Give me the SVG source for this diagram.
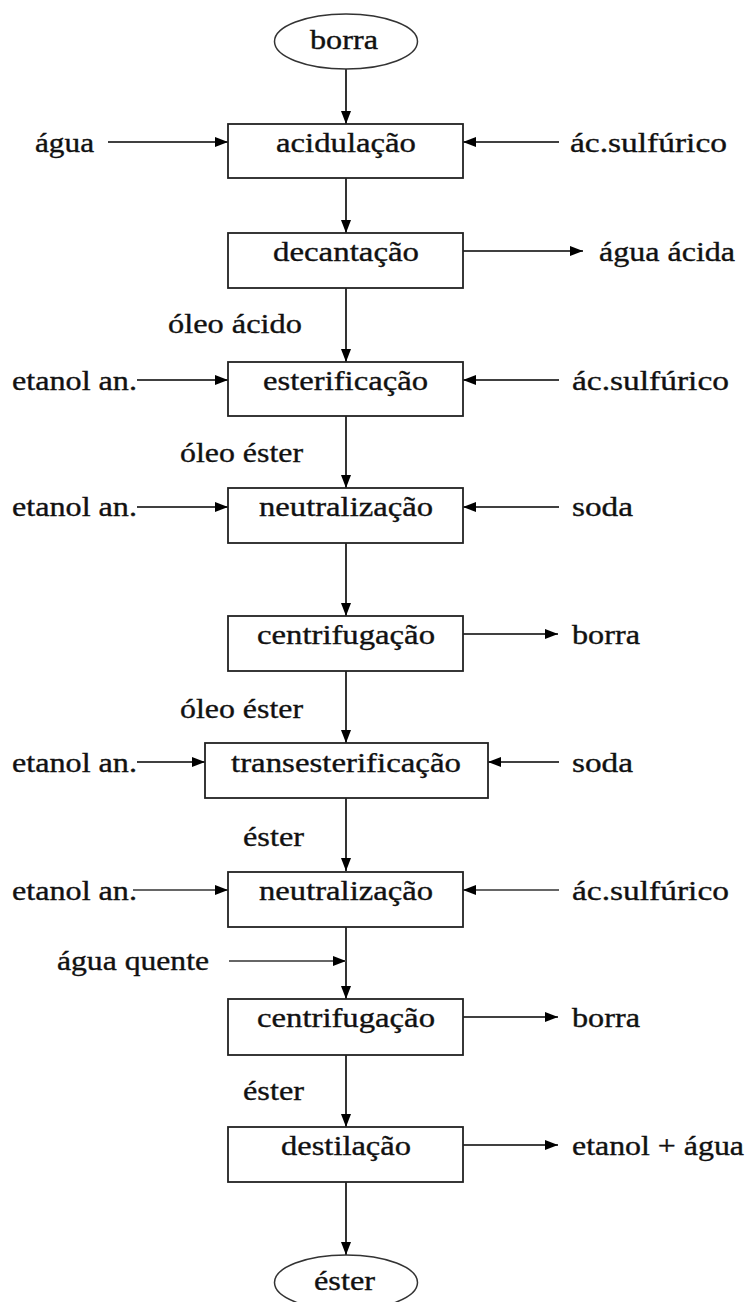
<svg xmlns="http://www.w3.org/2000/svg" width="751" height="1302" viewBox="0 0 751 1302">
<defs>
<marker id="ah" markerUnits="userSpaceOnUse" markerWidth="14" markerHeight="11" refX="13" refY="5" orient="auto">
<path d="M0,0 L13,5 L0,10 z" fill="#000"/>
</marker>
<style>
.bx{fill:#fff;stroke:#222;stroke-width:1.8}
.el{fill:#fff;stroke:#333;stroke-width:1.5}
.ln{fill:none;stroke:#000;stroke-width:1.6;marker-end:url(#ah)}
.lg{fill:none;stroke:#666;stroke-width:2;marker-end:url(#ah)}
.t{font-family:'Liberation Serif','Times New Roman',Tinos,'DejaVu Serif',serif;font-size:27px;fill:#111;stroke:#111;stroke-width:0.35}
</style>
</defs>
<rect width="751" height="1302" fill="#fff"/>

<g id="connectors">
<line class="ln" x1="346" y1="69" x2="346" y2="124"/>
<line class="ln" x1="346" y1="178" x2="346" y2="233"/>
<line class="ln" x1="346" y1="288" x2="346" y2="362"/>
<line class="ln" x1="346" y1="416" x2="346" y2="488"/>
<line class="ln" x1="346" y1="543" x2="346" y2="616"/>
<line class="ln" x1="346" y1="671" x2="346" y2="743"/>
<line class="ln" x1="346" y1="798" x2="346" y2="871"/>
<line class="ln" x1="346" y1="927" x2="346" y2="999"/>
<line class="ln" x1="346" y1="1055" x2="346" y2="1127"/>
<line class="ln" x1="346" y1="1182" x2="346" y2="1255"/>

<line class="ln" x1="108" y1="142" x2="228" y2="142"/>
<line class="ln" x1="559" y1="142" x2="463" y2="142"/>
<line class="ln" x1="463" y1="251" x2="583" y2="251"/>
<line class="ln" x1="137" y1="380" x2="228" y2="380"/>
<line class="ln" x1="559" y1="380" x2="463" y2="380"/>
<line class="ln" x1="137" y1="507" x2="228" y2="507"/>
<line class="ln" x1="559" y1="507" x2="463" y2="507"/>
<line class="ln" x1="463" y1="634" x2="558" y2="634"/>
<line class="ln" x1="137" y1="762" x2="205" y2="762"/>
<line class="ln" x1="559" y1="762" x2="488" y2="762"/>
<line class="lg" x1="133" y1="890" x2="228" y2="890"/>
<line class="lg" x1="559" y1="890" x2="463" y2="890"/>
<line class="lg" x1="229" y1="961" x2="346" y2="961"/>
<line class="ln" x1="463" y1="1017" x2="558" y2="1017"/>
<line class="ln" x1="463" y1="1145" x2="558" y2="1145"/>
</g>

<g id="n-borra-in">
<ellipse class="el" cx="346" cy="41.5" rx="71.5" ry="27.5"/>
<text class="t" x="310" y="49" textLength="68" lengthAdjust="spacingAndGlyphs">borra</text>
</g>
<g id="n-acidulacao">
<rect class="bx" x="228" y="124" width="235" height="54"/>
<text class="t" x="276" y="152" textLength="140" lengthAdjust="spacingAndGlyphs">acidulação</text>
</g>
<g id="n-decantacao">
<rect class="bx" x="228" y="233" width="235" height="55"/>
<text class="t" x="273" y="261" textLength="146" lengthAdjust="spacingAndGlyphs">decantação</text>
</g>
<g id="n-esterificacao">
<rect class="bx" x="228" y="362" width="235" height="54"/>
<text class="t" x="263" y="390" textLength="165" lengthAdjust="spacingAndGlyphs">esterificação</text>
</g>
<g id="n-neutralizacao1">
<rect class="bx" x="228" y="488" width="235" height="55"/>
<text class="t" x="259" y="516" textLength="174" lengthAdjust="spacingAndGlyphs">neutralização</text>
</g>
<g id="n-centrifugacao1">
<rect class="bx" x="228" y="616" width="235" height="55"/>
<text class="t" x="257" y="644" textLength="178" lengthAdjust="spacingAndGlyphs">centrifugação</text>
</g>
<g id="n-transesterificacao">
<rect class="bx" x="205" y="743" width="283" height="55"/>
<text class="t" x="231" y="772" textLength="230" lengthAdjust="spacingAndGlyphs">transesterificação</text>
</g>
<g id="n-neutralizacao2">
<rect class="bx" x="228" y="872" width="235" height="55"/>
<text class="t" x="259" y="900" textLength="174" lengthAdjust="spacingAndGlyphs">neutralização</text>
</g>
<g id="n-centrifugacao2">
<rect class="bx" x="228" y="999" width="235" height="56"/>
<text class="t" x="257" y="1027" textLength="178" lengthAdjust="spacingAndGlyphs">centrifugação</text>
</g>
<g id="n-destilacao">
<rect class="bx" x="228" y="1127" width="235" height="55"/>
<text class="t" x="281" y="1155" textLength="130" lengthAdjust="spacingAndGlyphs">destilação</text>
</g>
<g id="n-ester-out">
<ellipse class="el" cx="346" cy="1282.5" rx="71.5" ry="27.5"/>
<text class="t" x="314" y="1290" textLength="61" lengthAdjust="spacingAndGlyphs">éster</text>
</g>

<g id="labels">
<text class="t" x="35" y="152" textLength="59" lengthAdjust="spacingAndGlyphs">água</text>
<text class="t" x="570" y="152" textLength="157" lengthAdjust="spacingAndGlyphs">ác.sulfúrico</text>
<text class="t" x="599" y="261" textLength="136" lengthAdjust="spacingAndGlyphs">água ácida</text>
<text class="t" x="168" y="333" textLength="134" lengthAdjust="spacingAndGlyphs">óleo ácido</text>
<text class="t" x="12" y="390" textLength="125" lengthAdjust="spacingAndGlyphs">etanol an.</text>
<text class="t" x="572" y="390" textLength="157" lengthAdjust="spacingAndGlyphs">ác.sulfúrico</text>
<text class="t" x="180" y="462" textLength="123" lengthAdjust="spacingAndGlyphs">óleo éster</text>
<text class="t" x="12" y="516" textLength="125" lengthAdjust="spacingAndGlyphs">etanol an.</text>
<text class="t" x="572" y="516" textLength="61" lengthAdjust="spacingAndGlyphs">soda</text>
<text class="t" x="572" y="644" textLength="68" lengthAdjust="spacingAndGlyphs">borra</text>
<text class="t" x="180" y="718" textLength="123" lengthAdjust="spacingAndGlyphs">óleo éster</text>
<text class="t" x="12" y="772" textLength="125" lengthAdjust="spacingAndGlyphs">etanol an.</text>
<text class="t" x="572" y="772" textLength="61" lengthAdjust="spacingAndGlyphs">soda</text>
<text class="t" x="243" y="846" textLength="61" lengthAdjust="spacingAndGlyphs">éster</text>
<text class="t" x="12" y="900" textLength="125" lengthAdjust="spacingAndGlyphs">etanol an.</text>
<text class="t" x="572" y="900" textLength="157" lengthAdjust="spacingAndGlyphs">ác.sulfúrico</text>
<text class="t" x="57" y="970" textLength="152" lengthAdjust="spacingAndGlyphs">água quente</text>
<text class="t" x="572" y="1027" textLength="68" lengthAdjust="spacingAndGlyphs">borra</text>
<text class="t" x="243" y="1100" textLength="61" lengthAdjust="spacingAndGlyphs">éster</text>
<text class="t" x="572" y="1155" textLength="172" lengthAdjust="spacingAndGlyphs">etanol + água</text>
</g>
</svg>
